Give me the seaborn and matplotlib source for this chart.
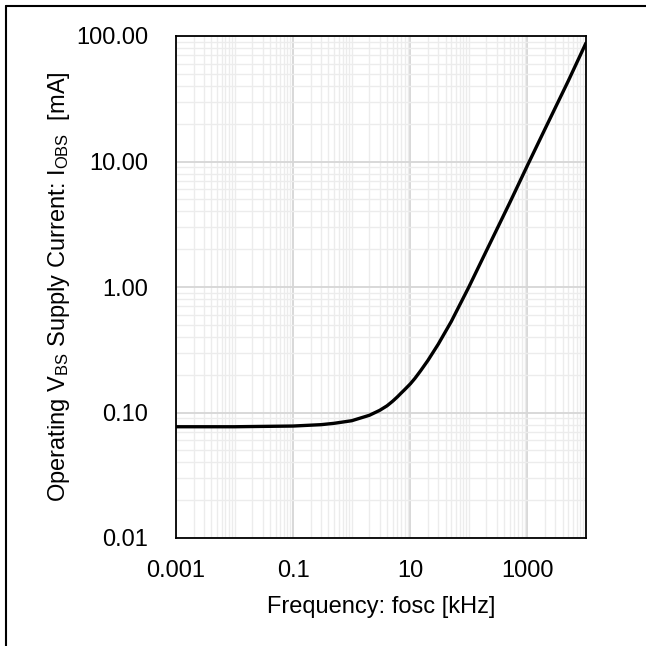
import numpy as np
import pandas as pd
import matplotlib
matplotlib.use("Agg")
import matplotlib.pyplot as plt
import matplotlib.ticker as mticker
from matplotlib.lines import Line2D
import seaborn as sns

# Operating VBS supply current vs oscillation frequency
freq_khz = [0.001, 0.01, 0.1, 0.3, 0.5, 1, 2, 3, 4, 5, 6, 7, 8, 10, 12, 15,
            20, 30, 50, 100, 200, 500, 1000, 2000, 5000, 10000]
current_ma = [0.077, 0.077, 0.078, 0.080, 0.082, 0.086, 0.095, 0.104, 0.113,
              0.123, 0.133, 0.143, 0.152, 0.169, 0.187, 0.215, 0.26, 0.35,
              0.53, 1.0, 1.95, 4.7, 9.3, 18.2, 44.0, 88.0]

x_ticks = [0.001, 0.1, 10, 1000]
y_ticks = [0.01, 0.1, 1, 10, 100]

df = pd.DataFrame({"freq": freq_khz, "current": current_ma})

sns.set_style("white")
plt.rcParams["font.family"] = ["Liberation Sans", "DejaVu Sans"]
plt.rcParams["text.color"] = "black"
plt.rcParams["axes.labelcolor"] = "black"

fig = plt.figure(figsize=(6.46, 6.46), dpi=100)
ax = fig.add_axes([176 / 646, 108 / 646, 410 / 646, 502 / 646])

ax.set_xscale("log")
ax.set_yscale("log")
sns.lineplot(data=df, x="freq", y="current", ax=ax, color="black",
             linewidth=2.4, zorder=5)

ax.set_xlim(0.001, 10000)
ax.set_ylim(0.01, 100)

# grid: labelled decades darker, everything else light
ax.xaxis.set_major_locator(mticker.FixedLocator(x_ticks))
ax.xaxis.set_minor_locator(mticker.LogLocator(base=10, subs=np.arange(1, 10), numticks=30))
ax.yaxis.set_major_locator(mticker.FixedLocator(y_ticks))
ax.yaxis.set_minor_locator(mticker.LogLocator(base=10, subs=np.arange(2, 10), numticks=30))
ax.xaxis.set_major_formatter(mticker.FuncFormatter(lambda v, p: f"{v:g}"))
ax.yaxis.set_major_formatter(mticker.FuncFormatter(lambda v, p: f"{v:.2f}"))
ax.xaxis.set_minor_formatter(mticker.NullFormatter())
ax.yaxis.set_minor_formatter(mticker.NullFormatter())

ax.grid(True, which="major", color="#d6d6d6", linewidth=1.3)
ax.grid(True, which="minor", color="#ececec", linewidth=1.0)
ax.set_axisbelow(True)
ax.tick_params(which="both", length=0, labelsize=17, colors="black")
ax.tick_params(axis="x", pad=16)
ax.tick_params(axis="y", pad=20)

for s in ax.spines.values():
    s.set_color("black")
    s.set_linewidth(1.3)

ax.set_xlabel("Frequency: fosc [kHz]", fontsize=17, labelpad=10, color="black")
ax.set_ylabel(r"Operating V$\mathregular{_{BS}}$ Supply Current: I$\mathregular{_{OBS}}$  [mA]",
              fontsize=17, labelpad=3, color="black")

# outer frame lines (top and left only)
fig.add_artist(Line2D([6 / 646, 1.0], [1 - 6 / 646, 1 - 6 / 646],
                      transform=fig.transFigure, color="black", linewidth=1.5))
fig.add_artist(Line2D([6 / 646, 6 / 646], [0.0, 1 - 6 / 646],
                      transform=fig.transFigure, color="black", linewidth=1.5))

fig.savefig("out.png", dpi=100)
